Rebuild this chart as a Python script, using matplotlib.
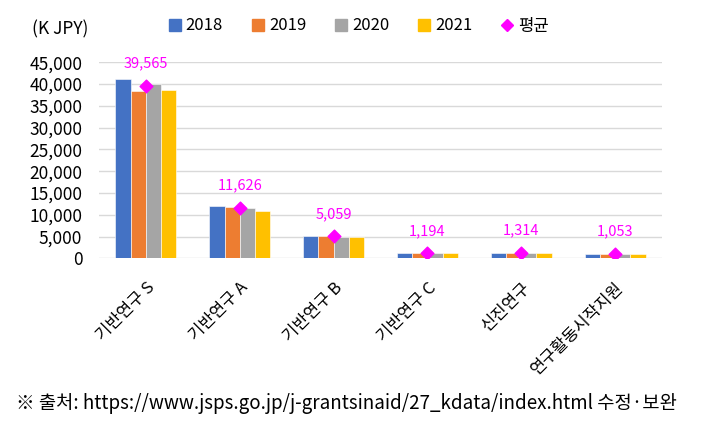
import numpy as np
import matplotlib.pyplot as plt
from matplotlib.lines import Line2D
from matplotlib.patches import Patch

plt.rcParams['font.family'] = ['Noto Sans CJK KR', 'DejaVu Sans']

# 과제 종목별 평균 배분액 (천엔)
categories = ['기반연구 S', '기반연구 A', '기반연구 B', '기반연구 C', '신진연구', '연구활동시작지원']
years = ['2018', '2019', '2020', '2021']
v2018 = [41100, 12100, 5150, 1220, 1340, 1040]
v2019 = [38400, 11780, 5100, 1210, 1320, 1060]
v2020 = [40100, 11640, 5000, 1180, 1280, 1050]
v2021 = [38660, 10984, 4986, 1166, 1316, 1062]
avg = [39565, 11626, 5059, 1194, 1314, 1053]
colors = ['#4472C4', '#ED7D31', '#A5A5A5', '#FFC000']

fig = plt.figure(figsize=(7.18, 4.25), dpi=100)
ax = fig.add_axes([0.1379, 0.392, 0.7841, 0.4614])

x = np.arange(len(categories))
w = 0.1625
series = [v2018, v2019, v2020, v2021]
for i, vals in enumerate(series):
    ax.bar(x + (i - 1.5) * w, vals, w, color=colors[i], edgecolor='white',
           linewidth=0.4, zorder=2)

ax.scatter(x, avg, marker='D', s=42, color='#FF00FF', zorder=3)
for xi, a in zip(x, avg):
    ax.annotate(f'{a:,}', (xi, a), xytext=(0, 16), textcoords='offset points',
                ha='center', va='center', color='#FF00FF', fontsize=10.5)

ax.set_xlim(-0.5, len(categories) - 0.5)
ax.set_ylim(0, 45000)
ax.set_yticks(np.arange(0, 45001, 5000))
ax.set_yticklabels([f'{v:,}' for v in range(0, 45001, 5000)], fontsize=12.5)
ax.set_xticks(x)
ax.set_xticklabels(categories, rotation=45, ha='right', rotation_mode='anchor',
                   fontsize=12)
ax.tick_params(axis='y', length=0, pad=12)
ax.tick_params(axis='x', length=0, pad=15)
ax.grid(axis='y', color='#D9D9D9', linewidth=1, zorder=0)
ax.set_axisbelow(True)
for s in ax.spines.values():
    s.set_visible(False)

fig.text(32 / 718, 1 - 29 / 425, '(K JPY)', fontsize=12.5, va='center', ha='left')

handles = [Patch(color=c) for c in colors]
handles.append(Line2D([], [], marker='D', color='#FF00FF', linestyle='none', markersize=6))
fig.legend(handles, years + ['평균'], loc='center', bbox_to_anchor=(359 / 718, 1 - 26 / 425),
           ncol=5, frameon=False, fontsize=12, handlelength=0.7, handleheight=0.7,
           handletextpad=0.3, columnspacing=1.75)

fig.text(16 / 718, 1 - 403 / 425,
         '※ 출처: https://www.jsps.go.jp/j-grantsinaid/27_kdata/index.html 수정·보완',
         fontsize=13.5, va='center', ha='left')

fig.savefig('out.png', dpi=100)
